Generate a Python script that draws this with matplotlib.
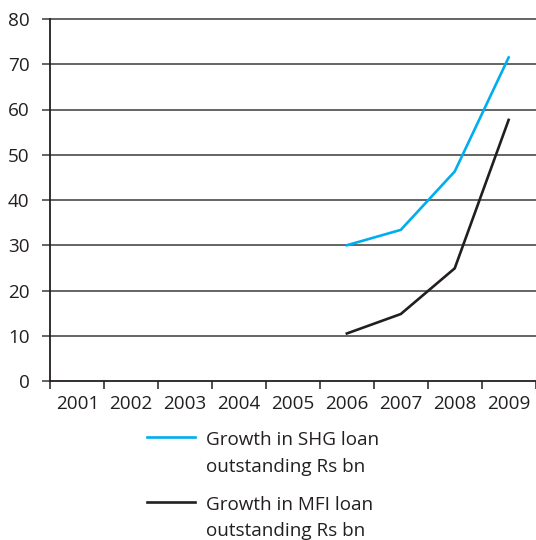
import matplotlib
matplotlib.use("Agg")
import matplotlib.pyplot as plt
from matplotlib.lines import Line2D

years = ["2001", "2002", "2003", "2004", "2005", "2006", "2007", "2008", "2009"]
shg_years = ["2006", "2007", "2008", "2009"]
shg_values = [30.0, 33.4, 46.3, 71.5]
mfi_years = ["2006", "2007", "2008", "2009"]
mfi_values = [10.5, 14.8, 24.9, 57.7]
y_ticks = [0, 10, 20, 30, 40, 50, 60, 70, 80]

shg_label = ["Growth in SHG loan", "outstanding Rs bn"]
mfi_label = ["Growth in MFI loan", "outstanding Rs bn"]

BLUE = "#00aeef"
DARK = "#231f20"
GRID = "#3a3a3a"
FONT = "Open Sans"
FS = 13.6

W, H = 536, 540
fig = plt.figure(figsize=(W / 100, H / 100), dpi=100)
ax = fig.add_axes([50.3 / W, 1 - 381 / H, (535.6 - 50.3) / W, (381 - 19) / H])

idx = {y: i for i, y in enumerate(years)}
ax.plot([idx[y] for y in shg_years], shg_values, color=BLUE, lw=1.9,
        solid_joinstyle="miter", zorder=3)
ax.plot([idx[y] for y in mfi_years], mfi_values, color=DARK, lw=1.9,
        solid_joinstyle="miter", zorder=3)

ax.set_xlim(-0.5, len(years) - 0.5)
ax.set_ylim(0, 80)

# horizontal gridlines at every y tick
ax.set_yticks(y_ticks)
ax.set_yticklabels([str(v) for v in y_ticks], fontfamily=FONT, fontsize=FS, color="#231f20")
for v in y_ticks[1:]:
    ax.axhline(v, color=GRID, lw=1.1, zorder=1, clip_on=False)
ax.tick_params(axis="y", length=5.8, width=1.1, color=GRID, pad=9)

# category boundaries carry the tick marks, labels sit at category centers
ax.set_xticks([i - 0.5 for i in range(len(years) + 1)])
ax.set_xticklabels([])
ax.set_xticks(range(len(years)), minor=True)
ax.set_xticklabels(years, minor=True, fontfamily=FONT, fontsize=FS, color="#231f20")
ax.tick_params(axis="x", which="major", length=5.5, width=1.1, color=DARK)
ax.tick_params(axis="x", which="minor", length=0, pad=10)

for s in ["top", "right"]:
    ax.spines[s].set_visible(False)
ax.spines["left"].set_color(DARK)
ax.spines["left"].set_linewidth(1.3)
ax.spines["bottom"].set_color(DARK)
ax.spines["bottom"].set_linewidth(1.3)

# legend drawn beneath the axes
def px(x, y):
    return x / W, 1 - y / H

for color, ly, lines, baselines in [
    (BLUE, 436.5, shg_label, [445, 472]),
    (DARK, 501.5, mfi_label, [509.5, 536.5]),
]:
    (x0, yy), (x1, _) = px(147, ly), px(195, ly)
    fig.add_artist(Line2D([x0, x1], [yy, yy], color=color, lw=1.9,
                          transform=fig.transFigure))
    for t, b in zip(lines, baselines):
        tx, ty = px(206, b)
        fig.text(tx, ty, t, fontfamily=FONT, fontsize=FS, color="#231f20",
                 va="baseline", ha="left")

fig.savefig("out.png", dpi=100)
